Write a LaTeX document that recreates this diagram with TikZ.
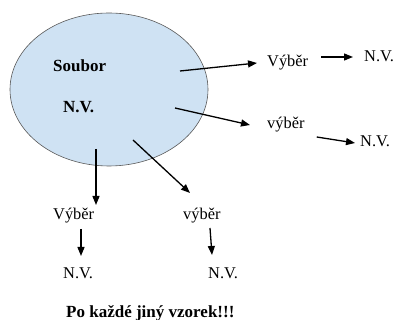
\documentclass[tikz,border=0pt]{standalone}
\usepackage{fontspec}
\setmainfont{Liberation Serif}
\usetikzlibrary{arrows.meta,shapes.geometric}
\definecolor{setfill}{HTML}{CFE2F3}
\definecolor{setline}{HTML}{595959}
\tikzset{
  lbl/.style={inner sep=0pt, anchor=base west, font=\fontsize{16.4}{19}\selectfont},
  blbl/.style={lbl, font=\fontsize{17}{20}\selectfont\bfseries},
  arr/.style={line width=1.3pt, -{Triangle[length=9pt,width=7pt]}}
}
\begin{document}
\begin{tikzpicture}[x=1pt, y=-1pt]
  \useasboundingbox (0,0) rectangle (397,320);

  % the population
  \node[ellipse, draw=setline, line width=0.6pt, fill=setfill,
        minimum width=198pt, minimum height=153pt, inner sep=0pt] (pop) at (109,89.5) {};
  \node[blbl] (soubor) at (53,72) {Soubor};
  \node[blbl] (nv0) at (63,112.5) {N.V.};

  % samples and their random variables
  \node[lbl] (v1) at (267,67) {Výběr};
  \node[lbl] (nv1) at (364,61.5) {N.V.};
  \node[lbl] (v2) at (267,129) {výběr};
  \node[lbl] (nv2) at (360,147) {N.V.};
  \node[lbl] (v3) at (53,220) {Výběr};
  \node[lbl] (nv3) at (63,279) {N.V.};
  \node[lbl] (v4) at (183,220) {výběr};
  \node[lbl] (nv4) at (208,279) {N.V.};

  \node[blbl] (note) at (66,318) {Po každé jiný vzorek!!!};

  % arrow tails inside the population
  \coordinate (s1) at (180,71);
  \coordinate (s3) at (175,108);
  \coordinate (s5) at (96,149);
  \coordinate (s7) at (133,140);

  % offsets below are in the picture's own units (y grows downwards)
  \draw[arr] (s1) -- ([shift={(-10,-4)}]v1.base west);
  \draw[arr] ([shift={(13,-10)}]v1.base east) -- ([shift={(-11,-4.5)}]nv1.base west);
  \draw[arr] (s3) -- ([shift={(-17,-4)}]v2.base west);
  \draw[arr] ([shift={(12,8)}]v2.base east) -- ([shift={(-5,-4)}]nv2.base west);
  \draw[arr] (s5) -- ([shift={(43,-15)}]v3.base west);
  \draw[arr] ([shift={(28,9)}]v3.base west) -- ([shift={(18,-23)}]nv3.base west);
  \draw[arr] (s7) -- ([shift={(7,-27)}]v4.base west);
  \draw[arr] ([shift={(27,8)}]v4.base west) -- ([shift={(4,-24)}]nv4.base west);
\end{tikzpicture}
\end{document}
